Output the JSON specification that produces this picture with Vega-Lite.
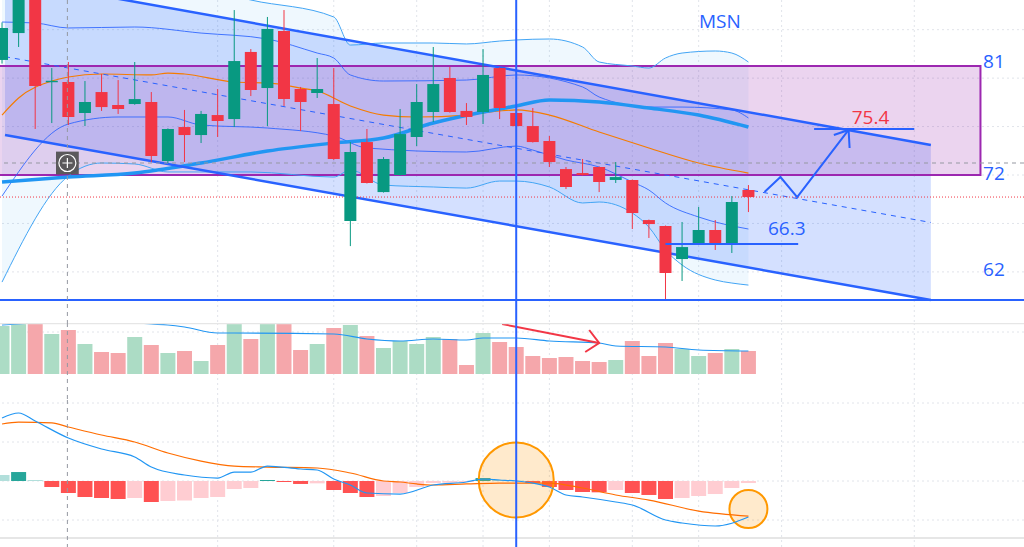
{
  "$schema": "https://vega.github.io/schema/vega-lite/v6.json",
  "padding": 0,
  "spacing": 0,
  "bounds": "flush",
  "background": "white",
  "config": {
    "view": {"stroke": null},
    "axis": {"disable": true},
    "legend": {"disable": true}
  },
  "datasets": {
    "k": [
      {"i":0,"o":81.5,"h":84.6,"l":81.2,"c":84.14,"v":1920,"m":0.077,"mk":"pf"},
      {"i":1,"o":83.72,"h":87.5,"l":82.57,"c":87.0,"v":2300,"m":0.115,"mk":"pr"},
      {"i":2,"o":86.9,"h":87.4,"l":75.8,"c":79.35,"v":2200,"m":0.013,"mk":"pf"},
      {"i":3,"o":79.66,"h":80.83,"l":76.29,"c":79.78,"v":1600,"m":-0.077,"mk":"nf"},
      {"i":4,"o":79.68,"h":81.33,"l":76.13,"c":76.79,"v":1760,"m":-0.154,"mk":"nf"},
      {"i":5,"o":77.12,"h":79.76,"l":76.04,"c":78.03,"v":1200,"m":-0.205,"mk":"nf"},
      {"i":6,"o":78.85,"h":80.34,"l":77.29,"c":77.61,"v":880,"m":-0.218,"mk":"nf"},
      {"i":7,"o":77.78,"h":79.84,"l":77.04,"c":77.45,"v":840,"m":-0.231,"mk":"nf"},
      {"i":8,"o":77.86,"h":81.33,"l":77.8,"c":78.27,"v":1480,"m":-0.218,"mk":"nr"},
      {"i":9,"o":78.03,"h":78.85,"l":73.07,"c":73.57,"v":1160,"m":-0.269,"mk":"nf"},
      {"i":10,"o":73.15,"h":75.85,"l":72.99,"c":75.8,"v":840,"m":-0.256,"mk":"nr"},
      {"i":11,"o":75.96,"h":77.37,"l":73.07,"c":75.3,"v":920,"m":-0.25,"mk":"nr"},
      {"i":12,"o":75.3,"h":77.29,"l":74.64,"c":77.04,"v":520,"m":-0.218,"mk":"nr"},
      {"i":13,"o":76.95,"h":79.1,"l":75.14,"c":76.46,"v":1160,"m":-0.205,"mk":"nr"},
      {"i":14,"o":76.62,"h":85.62,"l":75.96,"c":81.41,"v":2500,"m":-0.103,"mk":"nr"},
      {"i":15,"o":82.16,"h":82.4,"l":78.52,"c":79.02,"v":1400,"m":-0.09,"mk":"nr"},
      {"i":16,"o":79.18,"h":85.05,"l":76.04,"c":84.06,"v":2400,"m":0.013,"mk":"pr"},
      {"i":17,"o":83.89,"h":85.62,"l":77.7,"c":78.27,"v":2150,"m":-0.013,"mk":"nf"},
      {"i":18,"o":79.1,"h":79.27,"l":75.63,"c":78.03,"v":960,"m":-0.038,"mk":"nf"},
      {"i":19,"o":78.77,"h":81.66,"l":78.36,"c":79.1,"v":1200,"m":-0.03,"mk":"nr"},
      {"i":20,"o":77.86,"h":80.83,"l":73.24,"c":73.32,"v":1840,"m":-0.115,"mk":"nf"},
      {"i":21,"o":68.2,"h":74.72,"l":66.13,"c":73.9,"v":1960,"m":-0.154,"mk":"nf"},
      {"i":22,"o":74.72,"h":75.8,"l":71.3,"c":71.34,"v":1520,"m":-0.205,"mk":"nf"},
      {"i":23,"o":70.59,"h":73.48,"l":70.55,"c":73.32,"v":1040,"m":-0.192,"mk":"nr"},
      {"i":24,"o":72.0,"h":77.45,"l":71.95,"c":75.38,"v":1320,"m":-0.154,"mk":"nr"},
      {"i":25,"o":75.14,"h":79.51,"l":74.39,"c":78.03,"v":1200,"m":-0.077,"mk":"nr"},
      {"i":26,"o":77.2,"h":82.57,"l":76.38,"c":79.51,"v":1480,"m":-0.026,"mk":"nr"},
      {"i":27,"o":80.01,"h":80.92,"l":77.15,"c":77.2,"v":1400,"m":-0.022,"mk":"nr"},
      {"i":28,"o":77.29,"h":77.94,"l":76.13,"c":76.79,"v":360,"m":-0.013,"mk":"nr"},
      {"i":29,"o":77.2,"h":82.4,"l":76.21,"c":80.26,"v":1640,"m":0.038,"mk":"pr"},
      {"i":30,"o":80.83,"h":80.88,"l":76.62,"c":77.53,"v":1280,"m":0.013,"mk":"pf"},
      {"i":31,"o":77.12,"h":77.15,"l":75.98,"c":76.04,"v":1080,"m":0.005,"mk":"pf"},
      {"i":32,"o":76.04,"h":77.53,"l":74.68,"c":74.72,"v":720,"m":-0.026,"mk":"nf"},
      {"i":33,"o":74.81,"h":75.22,"l":72.66,"c":73.07,"v":640,"m":-0.077,"mk":"nf"},
      {"i":34,"o":72.49,"h":72.66,"l":70.84,"c":71.01,"v":680,"m":-0.115,"mk":"nf"},
      {"i":35,"o":72.16,"h":73.32,"l":71.95,"c":72.0,"v":520,"m":-0.141,"mk":"nf"},
      {"i":36,"o":72.66,"h":72.7,"l":70.59,"c":71.42,"v":480,"m":-0.145,"mk":"nf"},
      {"i":37,"o":71.59,"h":73.07,"l":71.34,"c":71.83,"v":560,"m":-0.115,"mk":"nr"},
      {"i":38,"o":71.59,"h":71.63,"l":67.54,"c":68.86,"v":1320,"m":-0.154,"mk":"nf"},
      {"i":39,"o":68.28,"h":68.32,"l":66.8,"c":67.95,"v":720,"m":-0.179,"mk":"nf"},
      {"i":40,"o":67.79,"h":67.83,"l":61.68,"c":63.91,"v":1240,"m":-0.231,"mk":"nf"},
      {"i":41,"o":65.06,"h":68.12,"l":63.25,"c":66.05,"v":1000,"m":-0.218,"mk":"nr"},
      {"i":42,"o":66.38,"h":69.36,"l":66.22,"c":67.46,"v":720,"m":-0.192,"mk":"nr"},
      {"i":43,"o":67.46,"h":68.28,"l":65.81,"c":66.38,"v":840,"m":-0.167,"mk":"nr"},
      {"i":44,"o":66.22,"h":70.26,"l":65.56,"c":69.77,"v":1000,"m":-0.09,"mk":"nr"},
      {"i":45,"o":70.76,"h":71.17,"l":68.94,"c":70.18,"v":920,"m":-0.026,"mk":"nr"}
    ],
    "vg": [{"i":13},{"i":20},{"i":25},{"i":29},{"i":33},{"i":38},{"i":42},{"i":47},{"i":55}],
    "vl": [{"i":31}],
    "cross": [{"i":3.94,"p":72.99}],
    "ch": [{"i":0.18,"u":88.23,"d":75.3,"m":81.77},{"i":56,"u":74.48,"d":61.68,"m":68.08}],
    "bb": [
      {"i":0,"u":89.75,"d":63.16},{"i":4,"u":89.42,"d":71.92},{"i":6,"u":89.18,"d":72.99},
      {"i":8,"u":88.93,"d":72.91},{"i":10,"u":88.27,"d":72.25},{"i":13,"u":87.11,"d":72.25},
      {"i":15,"u":86.45,"d":72.25},{"i":20,"u":85.05,"d":71.83},{"i":21,"u":82.73,"d":72.41},
      {"i":23,"u":82.9,"d":71.17},{"i":26,"u":82.9,"d":71.01},{"i":28,"u":82.82,"d":70.92},
      {"i":30,"u":83.06,"d":71.5},{"i":31,"u":83.15,"d":71.5},{"i":33,"u":83.23,"d":71.01},
      {"i":35,"u":82.57,"d":69.69},{"i":36,"u":81.33,"d":69.77},{"i":38,"u":81.0,"d":68.86},
      {"i":39,"u":80.83,"d":67.7},{"i":40,"u":81.66,"d":65.81},{"i":41,"u":82.07,"d":64.57},
      {"i":43,"u":82.24,"d":63.33},{"i":44,"u":82.07,"d":63.08},{"i":45,"u":81.33,"d":62.91}
    ],
    "kcu": [
      {"i":0,"p":84.63},{"i":2,"p":84.55},{"i":4,"p":84.14},{"i":8,"p":84.22},{"i":12,"p":83.72},
      {"i":16,"p":83.23},{"i":19,"p":82.07},{"i":20,"p":81.66},{"i":21,"p":80.26},{"i":23,"p":79.76},
      {"i":28,"p":79.84},{"i":31,"p":80.26},{"i":35,"p":79.27},{"i":36,"p":78.44},{"i":39,"p":77.61},
      {"i":41,"p":77.61},{"i":44,"p":77.37},{"i":45,"p":76.71}
    ],
    "kcl": [
      {"i":0,"p":70.26},{"i":4,"p":76.21},{"i":7,"p":76.79},{"i":10,"p":76.79},{"i":12,"p":76.13},
      {"i":16,"p":75.88},{"i":20,"p":75.22},{"i":22,"p":74.23},{"i":28,"p":73.9},{"i":31,"p":74.39},
      {"i":32,"p":74.06},{"i":34,"p":73.24},{"i":36,"p":72.66},{"i":38,"p":71.42},{"i":39,"p":70.76},
      {"i":40,"p":69.69},{"i":42,"p":68.53},{"i":45,"p":67.54}
    ],
    "ema": [
      {"i":0,"p":76.95},{"i":1,"p":78.36},{"i":3,"p":79.76},{"i":4,"p":80.09},{"i":6,"p":80.34},
      {"i":9,"p":80.26},{"i":10,"p":80.42},{"i":11,"p":80.34},{"i":14,"p":79.68},{"i":16,"p":79.6},
      {"i":18,"p":79.18},{"i":19,"p":78.94},{"i":21,"p":77.7},{"i":23,"p":76.95},{"i":25,"p":76.79},
      {"i":28,"p":76.95},{"i":30,"p":77.29},{"i":31,"p":77.37},{"i":33,"p":76.95},{"i":36,"p":75.55},
      {"i":39,"p":74.23},{"i":42,"p":72.99},{"i":45,"p":72.16}
    ],
    "ma": [
      {"i":0,"p":71.42},{"i":4,"p":71.83},{"i":8,"p":72.16},{"i":12,"p":72.99},{"i":16,"p":73.98},
      {"i":20,"p":74.64},{"i":23,"p":75.05},{"i":26,"p":76.29},{"i":29,"p":77.2},{"i":31,"p":77.7},
      {"i":33,"p":78.19},{"i":36,"p":78.03},{"i":39,"p":77.53},{"i":42,"p":76.95},{"i":45,"p":75.96}
    ],
    "draw": [
      {"g":"a","k":0,"i":40,"p":66.3},{"g":"a","k":1,"i":48,"p":66.3},
      {"g":"b","k":0,"i":48.96,"p":75.8},{"g":"b","k":1,"i":55,"p":75.8},
      {"g":"c","k":0,"i":45.97,"p":70.59},{"g":"c","k":1,"i":46.93,"p":71.83},
      {"g":"c","k":2,"i":47.94,"p":70.18},{"g":"c","k":3,"i":51.04,"p":75.72},
      {"g":"d","k":0,"i":50.15,"p":75.3},{"g":"d","k":1,"i":51.04,"p":75.72},{"g":"d","k":2,"i":51.1,"p":74.23}
    ],
    "blab": [
      {"t":"MSN","i":43.28,"p":84.63},
      {"t":"66.3","i":47.31,"p":67.54},
      {"t":"81","i":59.8,"p":81.36},
      {"t":"72","i":59.8,"p":72.12},
      {"t":"62","i":59.8,"p":64.15}
    ],
    "rlab": [{"t":"75.4","i":52.36,"p":76.73}],
    "vma": [
      {"i":0,"v":1960},{"i":1,"v":2000},{"i":5,"v":2240},{"i":9,"v":2000},{"i":10,"v":1960},
      {"i":11,"v":1880},{"i":13,"v":1640},{"i":14,"v":1640},{"i":20,"v":1600},{"i":22,"v":1400},
      {"i":24,"v":1320},{"i":26,"v":1400},{"i":28,"v":1360},{"i":29,"v":1440},{"i":31,"v":1440},
      {"i":33,"v":1320},{"i":36,"v":1240},{"i":37,"v":1120},{"i":40,"v":1080},{"i":42,"v":960},{"i":45,"v":920}
    ],
    "rarrow": [
      {"g":"a","k":0,"i":30.15,"v":2000},{"g":"a","k":1,"i":36.0,"v":1240},
      {"g":"b","k":0,"i":35.4,"v":1760},{"g":"b","k":1,"i":36.0,"v":1240},{"g":"b","k":2,"i":35.16,"v":880}
    ],
    "ml": [
      {"i":0,"m":0.808},{"i":1,"m":0.872},{"i":2,"m":0.769},{"i":4,"m":0.551},{"i":6,"m":0.41},
      {"i":8,"m":0.308},{"i":9,"m":0.179},{"i":11,"m":0.077},{"i":13,"m":0.038},{"i":14,"m":0.115},
      {"i":15,"m":0.115},{"i":16,"m":0.192},{"i":18,"m":0.154},{"i":19,"m":0.141},{"i":20,"m":0.026},
      {"i":21,"m":-0.051},{"i":22,"m":-0.154},{"i":24,"m":-0.167},{"i":26,"m":-0.051},{"i":28,"m":-0.013},
      {"i":29,"m":0.026},{"i":30,"m":0.013},{"i":31,"m":0.0},{"i":32,"m":-0.026},{"i":33,"m":-0.077},
      {"i":34,"m":-0.179},{"i":35,"m":-0.205},{"i":37,"m":-0.269},{"i":38,"m":-0.308},{"i":40,"m":-0.5},
      {"i":41,"m":-0.538},{"i":43,"m":-0.577},{"i":45,"m":-0.462}
    ],
    "sl": [
      {"i":0,"m":0.731},{"i":1,"m":0.756},{"i":3,"m":0.744},{"i":4,"m":0.692},{"i":6,"m":0.59},
      {"i":8,"m":0.5},{"i":10,"m":0.359},{"i":12,"m":0.256},{"i":14,"m":0.192},{"i":16,"m":0.179},
      {"i":19,"m":0.167},{"i":21,"m":0.103},{"i":23,"m":0.0},{"i":24,"m":-0.013},{"i":25,"m":-0.038},
      {"i":26,"m":-0.051},{"i":28,"m":-0.038},{"i":30,"m":-0.026},{"i":33,"m":-0.026},{"i":35,"m":-0.09},
      {"i":37,"m":-0.179},{"i":39,"m":-0.244},{"i":42,"m":-0.385},{"i":45,"m":-0.449}
    ]
  },
  "vconcat": [
    {
      "width": 1024,
      "height": 323,
      "layer": [
        {"data": {"name": "vg"}, "mark": {"type": "rule", "color": "#e1e4ea", "strokeDash": [2, 3], "clip": true},
         "encoding": {"x": {"field": "i", "type": "quantitative", "scale": {"domain": [0.1791, 61.313], "nice": false, "zero": false}}}},
        {"data": {"values": [{"p": 84}, {"p": 80}, {"p": 76}, {"p": 72}, {"p": 68}, {"p": 64}]}, "mark": {"type": "rule", "color": "#e1e4ea", "strokeDash": [2, 3], "clip": true},
         "encoding": {"y": {"field": "p", "type": "quantitative", "scale": {"domain": [59.78, 86.45], "nice": false, "zero": false}}}},
        {"data": {"name": "bb"}, "mark": {"type": "area", "color": "#2196f3", "opacity": 0.07, "interpolate": "monotone", "clip": true},
         "encoding": {"x": {"field": "i", "type": "quantitative", "scale": {"domain": [0.1791, 61.313], "nice": false, "zero": false}},
                      "y": {"field": "u", "type": "quantitative", "scale": {"domain": [59.78, 86.45], "nice": false, "zero": false}},
                      "y2": {"field": "d"}}},
        {"data": {"name": "ch"}, "mark": {"type": "area", "color": "#2962ff", "opacity": 0.2, "clip": true},
         "encoding": {"x": {"field": "i", "type": "quantitative", "scale": {"domain": [0.1791, 61.313], "nice": false, "zero": false}},
                      "y": {"field": "u", "type": "quantitative", "scale": {"domain": [59.78, 86.45], "nice": false, "zero": false}},
                      "y2": {"field": "d"}}},
        {"data": {"values": [{"i": -1, "i2": 58.99, "p": 81, "p2": 72}]}, "mark": {"type": "rect", "fill": "#9c27b0", "fillOpacity": 0.2, "stroke": "#9c27b0", "strokeWidth": 2, "clip": true},
         "encoding": {"x": {"field": "i", "type": "quantitative", "scale": {"domain": [0.1791, 61.313], "nice": false, "zero": false}},
                      "x2": {"field": "i2"},
                      "y": {"field": "p", "type": "quantitative", "scale": {"domain": [59.78, 86.45], "nice": false, "zero": false}},
                      "y2": {"field": "p2"}}},
        {"data": {"name": "bb"}, "mark": {"type": "line", "color": "#42a5f5", "strokeWidth": 1, "interpolate": "monotone", "clip": true},
         "encoding": {"x": {"field": "i", "type": "quantitative", "scale": {"domain": [0.1791, 61.313], "nice": false, "zero": false}},
                      "y": {"field": "u", "type": "quantitative", "scale": {"domain": [59.78, 86.45], "nice": false, "zero": false}}}},
        {"data": {"name": "bb"}, "mark": {"type": "line", "color": "#42a5f5", "strokeWidth": 1, "interpolate": "monotone", "clip": true},
         "encoding": {"x": {"field": "i", "type": "quantitative", "scale": {"domain": [0.1791, 61.313], "nice": false, "zero": false}},
                      "y": {"field": "d", "type": "quantitative", "scale": {"domain": [59.78, 86.45], "nice": false, "zero": false}}}},
        {"data": {"name": "kcu"}, "mark": {"type": "line", "color": "#2962ff", "strokeWidth": 1, "opacity": 0.85, "interpolate": "monotone", "clip": true},
         "encoding": {"x": {"field": "i", "type": "quantitative", "scale": {"domain": [0.1791, 61.313], "nice": false, "zero": false}},
                      "y": {"field": "p", "type": "quantitative", "scale": {"domain": [59.78, 86.45], "nice": false, "zero": false}}}},
        {"data": {"name": "kcl"}, "mark": {"type": "line", "color": "#2962ff", "strokeWidth": 1, "opacity": 0.85, "interpolate": "monotone", "clip": true},
         "encoding": {"x": {"field": "i", "type": "quantitative", "scale": {"domain": [0.1791, 61.313], "nice": false, "zero": false}},
                      "y": {"field": "p", "type": "quantitative", "scale": {"domain": [59.78, 86.45], "nice": false, "zero": false}}}},
        {"data": {"name": "ema"}, "mark": {"type": "line", "color": "#f57c00", "strokeWidth": 1.2, "interpolate": "monotone", "clip": true},
         "encoding": {"x": {"field": "i", "type": "quantitative", "scale": {"domain": [0.1791, 61.313], "nice": false, "zero": false}},
                      "y": {"field": "p", "type": "quantitative", "scale": {"domain": [59.78, 86.45], "nice": false, "zero": false}}}},
        {"data": {"name": "ma"}, "mark": {"type": "line", "color": "#2196f3", "strokeWidth": 3.5, "interpolate": "monotone", "clip": true},
         "encoding": {"x": {"field": "i", "type": "quantitative", "scale": {"domain": [0.1791, 61.313], "nice": false, "zero": false}},
                      "y": {"field": "p", "type": "quantitative", "scale": {"domain": [59.78, 86.45], "nice": false, "zero": false}}}},
        {"data": {"name": "ch"}, "mark": {"type": "line", "color": "#2962ff", "strokeWidth": 2.5, "clip": true},
         "encoding": {"x": {"field": "i", "type": "quantitative", "scale": {"domain": [0.1791, 61.313], "nice": false, "zero": false}},
                      "y": {"field": "u", "type": "quantitative", "scale": {"domain": [59.78, 86.45], "nice": false, "zero": false}}}},
        {"data": {"name": "ch"}, "mark": {"type": "line", "color": "#2962ff", "strokeWidth": 2.5, "clip": true},
         "encoding": {"x": {"field": "i", "type": "quantitative", "scale": {"domain": [0.1791, 61.313], "nice": false, "zero": false}},
                      "y": {"field": "d", "type": "quantitative", "scale": {"domain": [59.78, 86.45], "nice": false, "zero": false}}}},
        {"data": {"name": "ch"}, "mark": {"type": "line", "color": "#2962ff", "strokeWidth": 1, "strokeDash": [5, 5], "clip": true},
         "encoding": {"x": {"field": "i", "type": "quantitative", "scale": {"domain": [0.1791, 61.313], "nice": false, "zero": false}},
                      "y": {"field": "m", "type": "quantitative", "scale": {"domain": [59.78, 86.45], "nice": false, "zero": false}}}},
        {"data": {"values": [{"p": 70.18}]}, "mark": {"type": "rule", "color": "#f23645", "strokeDash": [1, 2], "strokeWidth": 1, "clip": true},
         "encoding": {"y": {"field": "p", "type": "quantitative", "scale": {"domain": [59.78, 86.45], "nice": false, "zero": false}}}},
        {"data": {"name": "cross"}, "mark": {"type": "rule", "color": "#9598a1", "strokeDash": [4, 4], "strokeWidth": 1, "clip": true},
         "encoding": {"y": {"field": "p", "type": "quantitative", "scale": {"domain": [59.78, 86.45], "nice": false, "zero": false}}}},
        {"data": {"name": "k"}, "mark": {"type": "rule", "strokeWidth": 1, "clip": true},
         "encoding": {"x": {"field": "i", "type": "quantitative", "scale": {"domain": [0.1791, 61.313], "nice": false, "zero": false}},
                      "y": {"field": "l", "type": "quantitative", "scale": {"domain": [59.78, 86.45], "nice": false, "zero": false}},
                      "y2": {"field": "h"},
                      "color": {"condition": {"test": "datum.o < datum.c", "value": "#089981"}, "value": "#f23645"}}},
        {"data": {"name": "k"}, "mark": {"type": "bar", "size": 12, "clip": true},
         "encoding": {"x": {"field": "i", "type": "quantitative", "scale": {"domain": [0.1791, 61.313], "nice": false, "zero": false}},
                      "y": {"field": "o", "type": "quantitative", "scale": {"domain": [59.78, 86.45], "nice": false, "zero": false}},
                      "y2": {"field": "c"},
                      "color": {"condition": {"test": "datum.o < datum.c", "value": "#089981"}, "value": "#f23645"}}},
        {"data": {"values": [{"p": 61.68}]}, "mark": {"type": "rule", "color": "#2962ff", "strokeWidth": 2, "clip": true},
         "encoding": {"y": {"field": "p", "type": "quantitative", "scale": {"domain": [59.78, 86.45], "nice": false, "zero": false}}}},
        {"data": {"name": "draw"}, "mark": {"type": "line", "color": "#2962ff", "strokeWidth": 2, "clip": true},
         "encoding": {"x": {"field": "i", "type": "quantitative", "scale": {"domain": [0.1791, 61.313], "nice": false, "zero": false}},
                      "y": {"field": "p", "type": "quantitative", "scale": {"domain": [59.78, 86.45], "nice": false, "zero": false}},
                      "detail": {"field": "g"},
                      "order": {"field": "k", "type": "quantitative"}}},
        {"data": {"name": "blab"}, "mark": {"type": "text", "color": "#2962ff", "font": "Open Sans", "fontSize": 19, "align": "center", "baseline": "middle", "clip": true},
         "encoding": {"x": {"field": "i", "type": "quantitative", "scale": {"domain": [0.1791, 61.313], "nice": false, "zero": false}},
                      "y": {"field": "p", "type": "quantitative", "scale": {"domain": [59.78, 86.45], "nice": false, "zero": false}},
                      "text": {"field": "t"}}},
        {"data": {"name": "rlab"}, "mark": {"type": "text", "color": "#f23645", "font": "Open Sans", "fontSize": 19, "align": "center", "baseline": "middle", "clip": true},
         "encoding": {"x": {"field": "i", "type": "quantitative", "scale": {"domain": [0.1791, 61.313], "nice": false, "zero": false}},
                      "y": {"field": "p", "type": "quantitative", "scale": {"domain": [59.78, 86.45], "nice": false, "zero": false}},
                      "text": {"field": "t"}}},
        {"data": {"name": "vl"}, "mark": {"type": "rule", "color": "#2962ff", "strokeWidth": 2, "clip": true},
         "encoding": {"x": {"field": "i", "type": "quantitative", "scale": {"domain": [0.1791, 61.313], "nice": false, "zero": false}}}},
        {"data": {"name": "cross"}, "mark": {"type": "rule", "color": "#9598a1", "strokeDash": [4, 4], "strokeWidth": 1, "clip": true},
         "encoding": {"x": {"field": "i", "type": "quantitative", "scale": {"domain": [0.1791, 61.313], "nice": false, "zero": false}}}},
        {"data": {"name": "cross"}, "mark": {"type": "point", "shape": "square", "size": 520, "filled": true, "color": "#4f4f4f", "opacity": 0.92, "clip": true},
         "encoding": {"x": {"field": "i", "type": "quantitative", "scale": {"domain": [0.1791, 61.313], "nice": false, "zero": false}},
                      "y": {"field": "p", "type": "quantitative", "scale": {"domain": [59.78, 86.45], "nice": false, "zero": false}}}},
        {"data": {"name": "cross"}, "mark": {"type": "point", "shape": "circle", "size": 289, "filled": false, "color": "white", "strokeWidth": 1.2, "opacity": 1, "clip": true},
         "encoding": {"x": {"field": "i", "type": "quantitative", "scale": {"domain": [0.1791, 61.313], "nice": false, "zero": false}},
                      "y": {"field": "p", "type": "quantitative", "scale": {"domain": [59.78, 86.45], "nice": false, "zero": false}}}},
        {"data": {"name": "cross"}, "mark": {"type": "point", "shape": "M-1,0L1,0M0,-1L0,1", "size": 100, "filled": false, "color": "white", "strokeWidth": 1.2, "opacity": 1, "clip": true},
         "encoding": {"x": {"field": "i", "type": "quantitative", "scale": {"domain": [0.1791, 61.313], "nice": false, "zero": false}},
                      "y": {"field": "p", "type": "quantitative", "scale": {"domain": [59.78, 86.45], "nice": false, "zero": false}}}}
      ]
    },
    {
      "width": 1024,
      "height": 77,
      "layer": [
        {"data": {"name": "vg"}, "mark": {"type": "rule", "color": "#e1e4ea", "strokeDash": [2, 3], "clip": true},
         "encoding": {"x": {"field": "i", "type": "quantitative", "scale": {"domain": [0.1791, 61.313], "nice": false, "zero": false}}}},
        {"data": {"values": [{"v": 1680}]}, "mark": {"type": "rule", "color": "#e1e4ea", "strokeDash": [2, 3], "clip": true},
         "encoding": {"y": {"field": "v", "type": "quantitative", "scale": {"domain": [-1040, 2040], "nice": false, "zero": false}}}},
        {"data": {"name": "k"}, "mark": {"type": "bar", "size": 15, "clip": true},
         "encoding": {"x": {"field": "i", "type": "quantitative", "scale": {"domain": [0.1791, 61.313], "nice": false, "zero": false}},
                      "y": {"field": "v", "type": "quantitative", "scale": {"domain": [-1040, 2040], "nice": false, "zero": false}},
                      "y2": {"datum": 0},
                      "color": {"condition": {"test": "datum.o < datum.c", "value": "#acdcc5"}, "value": "#f5a7ab"}}},
        {"data": {"name": "vma"}, "mark": {"type": "line", "color": "#2196f3", "strokeWidth": 1.2, "interpolate": "monotone", "clip": true},
         "encoding": {"x": {"field": "i", "type": "quantitative", "scale": {"domain": [0.1791, 61.313], "nice": false, "zero": false}},
                      "y": {"field": "v", "type": "quantitative", "scale": {"domain": [-1040, 2040], "nice": false, "zero": false}}}},
        {"data": {"name": "rarrow"}, "mark": {"type": "line", "color": "#f23645", "strokeWidth": 2, "clip": true},
         "encoding": {"x": {"field": "i", "type": "quantitative", "scale": {"domain": [0.1791, 61.313], "nice": false, "zero": false}},
                      "y": {"field": "v", "type": "quantitative", "scale": {"domain": [-1040, 2040], "nice": false, "zero": false}},
                      "detail": {"field": "g"},
                      "order": {"field": "k", "type": "quantitative"}}},
        {"data": {"values": [{"v": 2030}]}, "mark": {"type": "rule", "color": "#e6e6e6", "strokeWidth": 2, "clip": true},
         "encoding": {"y": {"field": "v", "type": "quantitative", "scale": {"domain": [-1040, 2040], "nice": false, "zero": false}}}},
        {"data": {"name": "vl"}, "mark": {"type": "rule", "color": "#2962ff", "strokeWidth": 2, "clip": true},
         "encoding": {"x": {"field": "i", "type": "quantitative", "scale": {"domain": [0.1791, 61.313], "nice": false, "zero": false}}}},
        {"data": {"name": "cross"}, "mark": {"type": "rule", "color": "#9598a1", "strokeDash": [4, 4], "strokeWidth": 1, "clip": true},
         "encoding": {"x": {"field": "i", "type": "quantitative", "scale": {"domain": [0.1791, 61.313], "nice": false, "zero": false}}}}
      ]
    },
    {
      "width": 1024,
      "height": 147,
      "layer": [
        {"data": {"name": "vg"}, "mark": {"type": "rule", "color": "#e1e4ea", "strokeDash": [2, 3], "clip": true},
         "encoding": {"x": {"field": "i", "type": "quantitative", "scale": {"domain": [0.1791, 61.313], "nice": false, "zero": false}}}},
        {"data": {"values": [{"m": 1}, {"m": 0.5}, {"m": 0}, {"m": -0.5}]}, "mark": {"type": "rule", "color": "#e1e4ea", "strokeDash": [2, 3], "clip": true},
         "encoding": {"y": {"field": "m", "type": "quantitative", "scale": {"domain": [-0.846, 1.0385], "nice": false, "zero": false}}}},
        {"data": {"name": "k"}, "mark": {"type": "bar", "size": 15, "clip": true},
         "encoding": {"x": {"field": "i", "type": "quantitative", "scale": {"domain": [0.1791, 61.313], "nice": false, "zero": false}},
                      "y": {"field": "m", "type": "quantitative", "scale": {"domain": [-0.846, 1.0385], "nice": false, "zero": false}},
                      "y2": {"datum": 0},
                      "color": {"field": "mk", "type": "nominal", "scale": {"domain": ["pr", "pf", "nr", "nf"], "range": ["#26a69a", "#b2dfdb", "#ffcdd2", "#ff5252"]}, "legend": null}}},
        {"data": {"values": [{"i": 31, "m": 0.013}]}, "mark": {"type": "point", "shape": "circle", "size": 5625, "fill": "#ff9800", "fillOpacity": 0.2, "stroke": "#ff9800", "strokeWidth": 2, "strokeOpacity": 1, "clip": true},
         "encoding": {"x": {"field": "i", "type": "quantitative", "scale": {"domain": [0.1791, 61.313], "nice": false, "zero": false}},
                      "y": {"field": "m", "type": "quantitative", "scale": {"domain": [-0.846, 1.0385], "nice": false, "zero": false}}}},
        {"data": {"values": [{"i": 45, "m": -0.359}]}, "mark": {"type": "point", "shape": "circle", "size": 1444, "fill": "#ff9800", "fillOpacity": 0.2, "stroke": "#ff9800", "strokeWidth": 2, "strokeOpacity": 1, "clip": true},
         "encoding": {"x": {"field": "i", "type": "quantitative", "scale": {"domain": [0.1791, 61.313], "nice": false, "zero": false}},
                      "y": {"field": "m", "type": "quantitative", "scale": {"domain": [-0.846, 1.0385], "nice": false, "zero": false}}}},
        {"data": {"name": "sl"}, "mark": {"type": "line", "color": "#ff6d00", "strokeWidth": 1.2, "interpolate": "monotone", "clip": true},
         "encoding": {"x": {"field": "i", "type": "quantitative", "scale": {"domain": [0.1791, 61.313], "nice": false, "zero": false}},
                      "y": {"field": "m", "type": "quantitative", "scale": {"domain": [-0.846, 1.0385], "nice": false, "zero": false}}}},
        {"data": {"name": "ml"}, "mark": {"type": "line", "color": "#2196f3", "strokeWidth": 1.2, "interpolate": "monotone", "clip": true},
         "encoding": {"x": {"field": "i", "type": "quantitative", "scale": {"domain": [0.1791, 61.313], "nice": false, "zero": false}},
                      "y": {"field": "m", "type": "quantitative", "scale": {"domain": [-0.846, 1.0385], "nice": false, "zero": false}}}},
        {"data": {"values": [{"m": -0.731}]}, "mark": {"type": "rule", "color": "#e6e6e6", "strokeWidth": 2, "clip": true},
         "encoding": {"y": {"field": "m", "type": "quantitative", "scale": {"domain": [-0.846, 1.0385], "nice": false, "zero": false}}}},
        {"data": {"name": "vl"}, "mark": {"type": "rule", "color": "#2962ff", "strokeWidth": 2, "clip": true},
         "encoding": {"x": {"field": "i", "type": "quantitative", "scale": {"domain": [0.1791, 61.313], "nice": false, "zero": false}}}},
        {"data": {"name": "cross"}, "mark": {"type": "rule", "color": "#9598a1", "strokeDash": [4, 4], "strokeWidth": 1, "clip": true},
         "encoding": {"x": {"field": "i", "type": "quantitative", "scale": {"domain": [0.1791, 61.313], "nice": false, "zero": false}}}}
      ]
    }
  ]
}
